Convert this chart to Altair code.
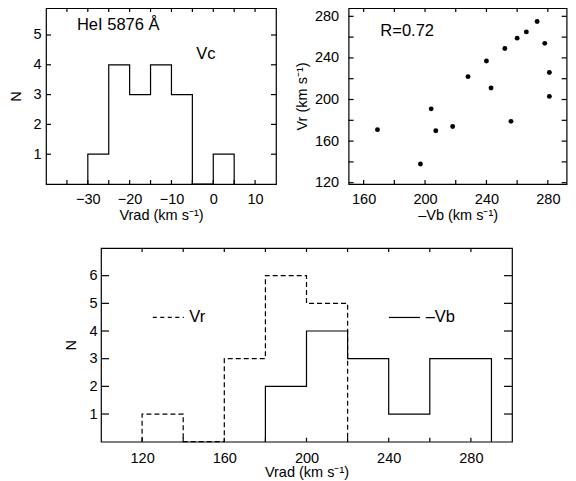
import altair as alt
import pandas as pd

FONT = "Liberation Sans"
LAB = 14.5
ANN = 16.5
TICK_COLOR = "black"

# ---- Panel 1: HeI 5876 Vc histogram ----
vc_edges = [-30, -25, -20, -15, -10, -5, 0, 5]
vc_counts = [1, 4, 3, 4, 3, 0, 1]
vc_xticks = [-35, -30, -25, -20, -15, -10, -5, 0, 5, 10]
vc_yticks = [1, 2, 3, 4, 5]

# ---- Panel 2: Vr vs -Vb scatter ----
neg_vb = [273, 266, 260, 252, 240, 278, 228, 281, 243, 281, 169, 204, 207, 218, 197, 256]
vr_pts = [275, 265, 259, 249, 237, 254, 222, 226, 211, 203, 171, 191, 170, 174, 138, 179]
sc_xticks = [160, 180, 200, 220, 240, 260, 280]
sc_yticks = [120, 140, 160, 180, 200, 220, 240, 260, 280]

# ---- Panel 3: Vr (dashed) and -Vb (solid) histograms ----
vr_edges = [120, 140, 160, 180, 200, 220]
vr_counts = [1, 0, 3, 6, 5]
vb_edges = [180, 200, 220, 240, 260, 290]
vb_counts = [2, 4, 3, 1, 3]
h_xticks = [120, 140, 160, 180, 200, 220, 240, 260, 280]
h_yticks = [1, 2, 3, 4, 5, 6]

UNIT = "(km s\u207b\u00b9)"


def steps(edges, counts):
    xs = [edges[0]] + list(edges[:-1]) + [edges[-1], edges[-1]]
    ys = [0] + list(counts) + [counts[-1], 0]
    return pd.DataFrame({"x": xs, "y": ys, "i": list(range(len(xs)))})


def axis(values, pad, title, mod=None, orient="bottom", tpad=3):
    kw = dict(values=values, ticks=False, domain=False, grid=False,
              labelFont=FONT, labelFontSize=LAB, labelColor="black", labelPadding=pad,
              labelFlush=False, labelOverlap=False, orient=orient, title=title,
              titleFont=FONT, titleFontSize=LAB, titleFontWeight="normal",
              titleColor="black", titlePadding=tpad)
    if mod is not None:
        kw["labelExpr"] = "datum.value %% %d == 0 ? datum.label : ''" % mod
    return alt.Axis(**kw)


def tick_layers(xs, ys, xt, yt, W, H, lx, ly):
    dx = pd.DataFrame({"v": xt})
    dy = pd.DataFrame({"v": yt})
    st = dict(color=TICK_COLOR, strokeWidth=1.2)
    bx = alt.Chart(dx).mark_rule(**st)
    by = alt.Chart(dy).mark_rule(**st)
    xe = alt.X("v:Q", scale=xs, axis=None)
    ye = alt.Y("v:Q", scale=ys, axis=None)
    return [
        bx.encode(x=xe, y=alt.value(H), y2=alt.value(H - lx)),
        bx.encode(x=xe, y=alt.value(0), y2=alt.value(lx)),
        by.encode(y=ye, x=alt.value(0), x2=alt.value(ly)),
        by.encode(y=ye, x=alt.value(W), x2=alt.value(W - ly)),
    ]


def text_layer(df, xf, yf, xs, ys):
    return alt.Chart(df).mark_text(
        align="left", baseline="middle", font=FONT, fontSize=ANN, color="black").encode(
        x=alt.X(xf, scale=xs, axis=None),
        y=alt.Y(yf, scale=ys, axis=None),
        text="t:N")


# ---------- Panel 1 ----------
W1, H1 = 230, 176
xs1 = alt.Scale(domain=[-40, 15], nice=False, zero=False)
ys1 = alt.Scale(domain=[0, 5.906], nice=False, zero=False)
p1_line = alt.Chart(steps(vc_edges, vc_counts)).mark_line(
    color="black", strokeWidth=1.2, interpolate="step-after").encode(
    x=alt.X("x:Q", scale=xs1, axis=axis(vc_xticks, 8, "Vrad " + UNIT, mod=10)),
    y=alt.Y("y:Q", scale=ys1, axis=axis(vc_yticks, 5, "N", orient="left", tpad=9)),
    order="i:Q")
p1_text = text_layer(
    pd.DataFrame({"x": [-32.6, -4.1], "y": [5.33, 4.35], "t": ["HeI 5876 \u00c5", "Vc"]}),
    "x:Q", "y:Q", xs1, ys1)
panel1 = alt.layer(p1_line, p1_text, *tick_layers(xs1, ys1, vc_xticks, vc_yticks, W1, H1, 4, 5)
                   ).resolve_axis(x="independent", y="independent").properties(width=W1, height=H1)

# ---------- Panel 2 ----------
W2, H2 = 218, 176
xs2 = alt.Scale(domain=[150.2, 150.2 + 218 / 1.535], nice=False, zero=False)
ys2 = alt.Scale(domain=[118.75, 288], nice=False, zero=False)
p2_pts = alt.Chart(pd.DataFrame({"vb": neg_vb, "vr": vr_pts})).mark_circle(
    size=24, color="black", opacity=1).encode(
    x=alt.X("vb:Q", scale=xs2, axis=axis(sc_xticks, 8, "\u2013Vb " + UNIT, mod=40)),
    y=alt.Y("vr:Q", scale=ys2, axis=axis(sc_yticks, 10, "Vr " + UNIT, mod=40, orient="left", tpad=5)))
p2_text = text_layer(pd.DataFrame({"x": [170.9], "y": [266], "t": ["R=0.72"]}),
                     "x:Q", "y:Q", xs2, ys2)
panel2 = alt.layer(p2_pts, p2_text, *tick_layers(xs2, ys2, sc_xticks, sc_yticks, W2, H2, 4, 5)
                   ).resolve_axis(x="independent", y="independent").properties(width=W2, height=H2)

# ---------- Panel 3 ----------
W3, H3 = 411, 193.7
xs3 = alt.Scale(domain=[100, 300], nice=False, zero=False)
ys3 = alt.Scale(domain=[0, 7], nice=False, zero=False)
p3_vr = alt.Chart(steps(vr_edges, vr_counts)).mark_line(
    color="black", strokeWidth=1.2, strokeDash=[5, 3], interpolate="step-after").encode(
    x=alt.X("x:Q", scale=xs3, axis=axis(h_xticks, 9.5, "Vrad " + UNIT, mod=40, tpad=1)),
    y=alt.Y("y:Q", scale=ys3, axis=axis(h_yticks, 4, "N", orient="left", tpad=10)),
    order="i:Q")
p3_vb = alt.Chart(steps(vb_edges, vb_counts)).mark_line(
    color="black", strokeWidth=1.2, interpolate="step-after").encode(
    x=alt.X("x:Q", scale=xs3, axis=None),
    y=alt.Y("y:Q", scale=ys3, axis=None),
    order="i:Q")
leg = pd.DataFrame({"x": [125.2, 240.1], "x2": [140.3, 255.2], "y": [4.49, 4.49],
                    "tx": [143.0, 258.0], "t": ["Vr", "\u2013Vb"]})
p3_leg_dash = alt.Chart(leg.iloc[[0]]).mark_rule(color="black", strokeWidth=1.2, strokeDash=[4, 3.5]).encode(
    x=alt.X("x:Q", scale=xs3, axis=None), x2="x2:Q", y=alt.Y("y:Q", scale=ys3, axis=None))
p3_leg_solid = alt.Chart(leg.iloc[[1]]).mark_rule(color="black", strokeWidth=1.2).encode(
    x=alt.X("x:Q", scale=xs3, axis=None), x2="x2:Q", y=alt.Y("y:Q", scale=ys3, axis=None))
p3_text = text_layer(leg, "tx:Q", "y:Q", xs3, ys3)
panel3 = alt.layer(p3_vr, p3_vb, p3_leg_dash, p3_leg_solid, p3_text,
                   *tick_layers(xs3, ys3, h_xticks, h_yticks, W3, H3, 4, 8)
                   ).resolve_axis(x="independent", y="independent").properties(width=W3, height=H3)

spacer = alt.Chart(pd.DataFrame({"a": [0]})).mark_point(opacity=0).encode(
    x=alt.X("a:Q", axis=None), y=alt.Y("a:Q", axis=None)).properties(
    width=54.3, height=1, view=alt.ViewBackground(stroke="transparent"))

top = alt.hconcat(panel1, panel2, spacing=72.6, bounds="flush")
bottom = alt.hconcat(spacer, panel3, spacing=0, bounds="flush")

chart = alt.vconcat(top, bottom, spacing=22).properties(
    padding={"left": 0, "top": -2, "right": 0, "bottom": 0}
).configure_view(stroke="black", strokeWidth=1.2)

chart.save("out.html", embed_options={"renderer": "svg", "actions": False})
